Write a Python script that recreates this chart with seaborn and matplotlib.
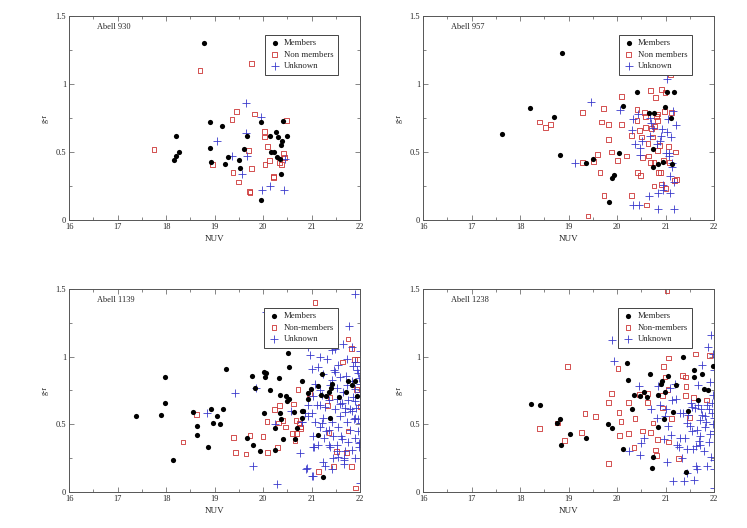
import matplotlib
matplotlib.use("Agg")
import matplotlib.pyplot as plt
import seaborn as sns
import pandas as pd
from matplotlib.ticker import MultipleLocator

# ---------------- DATA ----------------
# Abell 930
a930_mem_nuv = [18.78, 18.20, 18.20, 18.17, 18.26, 18.90, 18.91, 18.92, 19.15, 19.21, 19.28, 19.50, 19.52, 19.60, 19.67,
                19.96, 19.96, 20.15, 20.16, 20.23, 20.27, 20.28, 20.30, 20.34, 20.36, 20.38, 20.40, 20.41, 20.50]
a930_mem_gr = [1.30, 0.62, 0.47, 0.44, 0.50, 0.72, 0.53, 0.43, 0.69, 0.41, 0.46, 0.44, 0.38, 0.52, 0.62,
               0.72, 0.15, 0.62, 0.50, 0.50, 0.65, 0.46, 0.61, 0.45, 0.34, 0.55, 0.58, 0.73, 0.62]
a930_non_nuv = [17.75, 18.70, 19.76, 18.96, 19.36, 19.38, 19.45, 19.50, 19.70, 19.72, 19.73, 19.76, 19.83, 20.03, 20.03,
                20.04, 20.10, 20.14, 20.21, 20.21, 20.34, 20.38, 20.42, 20.45, 20.49]
a930_non_gr = [0.52, 1.10, 1.15, 0.41, 0.74, 0.35, 0.80, 0.28, 0.51, 0.21, 0.20, 0.38, 0.78, 0.65, 0.61,
               0.41, 0.54, 0.44, 0.32, 0.31, 0.42, 0.41, 0.49, 0.46, 0.73]
a930_unk_nuv = [20.25, 19.64, 19.95, 19.64, 19.06, 19.36, 19.67, 19.57, 19.97, 20.15, 20.43, 20.45]
a930_unk_gr = [1.10, 0.86, 0.76, 0.64, 0.58, 0.47, 0.47, 0.34, 0.22, 0.25, 0.22, 0.45]

# Abell 957
a957_mem_nuv = [17.62, 18.21, 18.69, 18.86, 18.82, 19.35, 19.51, 19.83, 19.90, 19.94, 20.03, 20.12, 20.42, 20.66, 20.77,
                20.75, 20.74, 20.85, 20.95, 20.99, 21.02, 21.11, 21.17, 21.13]
a957_mem_gr = [0.63, 0.82, 0.76, 1.23, 0.48, 0.42, 0.45, 0.13, 0.31, 0.33, 0.49, 0.84, 0.94, 0.79, 0.79,
               0.52, 0.39, 0.41, 0.43, 0.83, 0.94, 0.75, 0.94, 0.41]
a957_non_nuv = [18.40, 18.52, 18.62, 19.28, 19.29, 19.52, 19.60, 19.65, 19.72, 19.68, 19.73, 19.83, 19.83, 19.89, 19.40,
                20.01, 20.10, 20.09, 20.19, 20.30, 20.30, 20.41, 20.41, 20.42, 20.46, 20.49, 20.51, 20.52, 20.56, 20.59,
                20.58, 20.61, 20.64, 20.65, 20.69, 20.69, 20.71, 20.73, 20.76, 20.76, 20.78, 20.80, 20.82, 20.83, 20.84,
                20.84, 20.85, 20.87, 20.90, 20.92, 20.92, 20.95, 20.97, 20.99, 21.01, 21.06, 21.08, 21.10, 21.13, 21.18,
                21.20, 21.22]
a957_non_gr = [0.72, 0.68, 0.70, 0.79, 0.42, 0.43, 0.48, 0.35, 0.82, 0.72, 0.18, 0.70, 0.59, 0.50, 0.03,
               0.44, 0.91, 0.70, 0.47, 0.18, 0.62, 0.81, 0.73, 0.35, 0.66, 0.33, 0.61, 0.46, 0.79, 0.76,
               0.68, 0.11, 0.56, 0.47, 0.95, 0.42, 0.67, 0.61, 0.25, 0.42, 0.69, 0.90, 0.76, 0.73, 0.78,
               0.51, 0.35, 0.55, 0.35, 0.96, 0.26, 0.44, 0.80, 0.94, 0.23, 0.54, 0.42, 1.07, 0.79, 0.29,
               0.50, 0.30]
a957_unk_nuv = [19.13, 19.47, 20.06, 20.33, 20.31, 20.32, 20.45, 20.38, 20.43, 20.47, 20.48, 20.52, 20.66, 20.68, 20.71,
                20.68, 20.75, 20.82, 20.84, 20.85, 20.88, 20.90, 20.92, 20.94, 20.95, 21.00, 21.04, 21.04, 21.06, 21.08,
                21.08, 21.09, 21.10, 21.12, 21.14, 21.15, 21.17, 21.18, 21.21, 21.13]
a957_unk_gr = [0.42, 0.87, 0.81, 0.74, 0.66, 0.11, 0.11, 0.56, 0.78, 0.53, 0.48, 0.58, 0.18, 0.75, 0.71,
               0.62, 0.68, 0.56, 0.20, 0.08, 0.58, 0.62, 0.67, 0.22, 0.26, 0.49, 1.04, 0.65, 0.74, 0.49,
               0.47, 0.20, 0.32, 0.61, 0.39, 0.80, 0.28, 0.08, 0.70, 0.42]

# Abell 1139
a1139_mem_nuv = [17.38, 17.89, 17.98, 17.98, 18.15, 18.55, 18.64, 18.64, 18.86, 18.92, 18.96, 19.06, 19.12, 19.17, 19.24,
                 19.67, 19.78, 19.79, 19.83, 19.94, 20.01, 20.02, 20.05, 20.07, 20.14, 20.25, 20.25, 20.32, 20.34, 20.35,
                 20.38, 20.42, 20.48, 20.50, 20.51, 20.53, 20.53, 20.64, 20.66, 20.71, 20.80, 20.81, 20.83, 20.80, 20.93,
                 20.93, 20.98, 21.14, 21.14, 21.21, 21.20, 21.29, 21.24, 21.35, 21.41, 21.43, 21.39, 21.57, 21.70, 21.75,
                 21.83, 21.90, 21.94]
a1139_mem_gr = [0.56, 0.57, 0.85, 0.66, 0.24, 0.59, 0.49, 0.42, 0.33, 0.61, 0.51, 0.56, 0.50, 0.61, 0.91,
                0.40, 0.86, 0.35, 0.77, 0.30, 0.58, 0.89, 0.85, 0.88, 0.75, 0.31, 0.47, 0.84, 0.72, 0.58,
                0.54, 0.39, 0.71, 0.67, 1.03, 0.92, 0.69, 0.59, 0.39, 0.47, 0.82, 0.60, 0.60, 0.55, 0.69,
                0.73, 0.76, 0.42, 0.78, 0.87, 0.72, 0.71, 0.11, 0.74, 0.77, 0.80, 0.55, 0.70, 0.74, 0.82,
                0.79, 0.82, 0.71]
a1139_non_nuv = [18.35, 18.62, 19.39, 19.43, 19.65, 19.73, 20.00, 20.08, 20.10, 20.23, 20.29, 20.32, 20.34, 20.41, 20.47,
                 20.60, 20.62, 20.66, 20.69, 20.68, 20.72, 20.74, 20.78, 20.77, 20.96, 21.07, 21.14, 21.33, 21.36, 21.38,
                 21.46, 21.51, 21.63, 21.72, 21.75, 21.75, 21.83, 21.83, 21.88, 21.94, 21.93, 21.91, 22.00]
a1139_non_gr = [0.37, 0.57, 0.40, 0.29, 0.28, 0.42, 0.41, 0.52, 0.29, 0.61, 0.33, 0.51, 0.64, 0.53, 0.48,
                0.43, 0.65, 0.38, 0.43, 0.53, 0.76, 0.51, 0.48, 0.47, 0.73, 1.40, 0.15, 0.64, 0.44, 0.70,
                0.19, 0.30, 0.96, 0.29, 0.45, 1.13, 1.06, 0.19, 0.98, 0.98, 0.76, 0.03, 0.63]
a1139_unk_nuv = [18.84, 19.42, 19.79, 19.85, 20.06, 20.29, 20.58, 20.80, 20.76, 20.89, 21.02, 21.23, 21.90, 21.78, 20.25,
                 20.93, 21.26, 21.64, 21.48, 21.83, 21.99, 21.42,
                 20.97, 21.18, 21.31, 21.55, 21.73, 21.90, 22.00, 21.48, 21.00, 21.93,
                 21.24, 21.42, 21.59, 21.73, 21.83, 21.97, 21.38, 21.52, 21.64, 21.90, 22.00, 21.07, 21.18,
                 21.04, 21.21, 21.36, 21.52, 21.62, 21.76, 21.90, 22.00, 21.11, 21.28, 21.49, 21.69, 21.83, 20.93, 20.87,
                 21.00, 21.07, 21.24, 21.42, 21.59, 21.73, 21.90, 22.00, 21.18, 21.55, 21.79, 21.95, 21.35, 20.80, 20.93,
                 21.04, 21.26, 21.45, 21.62, 21.76, 21.90, 22.00, 21.14, 21.52, 21.83, 21.97, 21.69, 21.38,
                 21.04, 21.52, 21.55, 21.66, 21.90, 20.90, 21.28, 21.42, 21.00, 21.66, 21.99,
                 21.06, 21.17, 21.21, 21.35, 21.45, 21.60, 21.67, 21.87, 21.97, 21.86, 21.95, 21.80, 21.58, 21.30,
                 21.13, 21.68, 21.92, 21.99, 21.71, 21.47, 21.86, 21.96]
a1139_unk_gr = [0.58, 0.73, 0.19, 0.77, 1.33, 0.06, 0.60, 0.52, 0.29, 0.17, 0.12, 0.22, 1.46, 1.23, 0.50,
                1.07, 1.09, 1.09, 1.06, 1.07, 1.04, 1.05,
                1.01, 1.00, 0.98, 0.94, 0.98, 0.96, 0.93, 0.89, 0.91, 0.90,
                0.87, 0.83, 0.85, 0.79, 0.82, 0.84, 0.79, 0.77, 0.74, 0.76, 0.74, 0.80, 0.75,
                0.71, 0.72, 0.68, 0.69, 0.66, 0.68, 0.67, 0.64, 0.64, 0.63, 0.61, 0.62, 0.60, 0.64, 0.58,
                0.58, 0.52, 0.55, 0.52, 0.56, 0.52, 0.55, 0.51, 0.48, 0.48, 0.46, 0.45, 0.46, 0.52, 0.56,
                0.41, 0.40, 0.41, 0.39, 0.37, 0.40, 0.37, 0.35, 0.35, 0.31, 0.33, 0.30, 0.33,
                0.33, 0.30, 0.26, 0.25, 0.25, 0.18, 0.19, 0.17, 0.12, 0.21, 0.07,
                0.33, 0.64, 0.51, 0.35, 0.25, 0.41, 0.24, 0.54, 0.36, 0.93, 0.88, 0.61, 0.65, 0.45,
                0.92, 0.59, 0.62, 0.80, 0.86, 0.90, 0.70, 0.54]

# Abell 1238
a1238_mem_nuv = [18.22, 18.42, 18.76, 18.82, 18.85, 19.03, 19.35, 19.81, 19.90, 20.12, 20.20, 20.23, 20.31, 20.34, 20.47,
                 20.56, 20.62, 20.67, 20.72, 20.75, 20.85, 20.85, 20.90, 20.92, 20.98, 20.96, 21.06, 21.16, 21.21, 21.37,
                 21.42, 21.46, 21.59, 21.59, 21.67, 21.75, 21.79, 21.87, 21.97]
a1238_mem_gr = [0.65, 0.64, 0.51, 0.54, 0.35, 0.43, 0.40, 0.50, 0.47, 0.32, 0.95, 0.83, 0.61, 0.72, 0.71,
                0.74, 0.70, 0.87, 0.18, 0.26, 0.48, 0.72, 0.80, 0.82, 0.74, 0.54, 0.86, 0.59, 0.79, 1.00,
                0.15, 0.60, 0.85, 0.90, 0.68, 0.87, 0.76, 0.75, 0.93]
a1238_non_nuv = [18.40, 18.78, 18.92, 18.98, 19.26, 19.34, 19.56, 19.82, 19.83, 19.89, 20.02, 20.04, 20.05, 20.08, 20.23,
                 20.24, 20.35, 20.37, 20.47, 20.52, 20.62, 20.62, 20.69, 20.74, 20.80, 20.82, 20.83, 20.94, 20.94, 20.96,
                 20.99, 21.03, 21.05, 21.06, 21.06, 21.13, 21.27, 21.35, 21.41, 21.41, 21.42, 21.50, 21.61, 21.58, 21.85,
                 21.90]
a1238_non_gr = [0.47, 0.51, 0.38, 0.93, 0.44, 0.58, 0.56, 0.21, 0.66, 0.73, 0.91, 0.59, 0.42, 0.52, 0.43,
                0.66, 0.33, 0.54, 0.72, 0.45, 0.73, 0.66, 0.44, 0.51, 0.31, 0.27, 0.39, 0.71, 0.62, 0.93,
                0.85, 1.49, 0.76, 0.37, 0.99, 0.54, 0.25, 0.86, 0.71, 0.85, 0.78, 0.55, 1.02, 0.70, 0.68,
                1.01]
a1238_unk_nuv = [19.90, 19.94, 20.24, 20.46, 20.48, 20.49, 20.55, 20.70, 20.85, 20.88, 20.97, 20.98, 21.03, 21.05, 21.09,
                 21.11, 21.13, 21.15, 21.21, 21.24, 21.27, 21.29, 21.33, 21.39, 21.41, 21.44, 21.45, 21.47, 21.50, 21.52,
                 21.54, 21.56, 21.59, 21.62, 21.64, 21.63, 21.65, 21.67, 21.67, 21.70, 21.71, 21.72, 21.73, 21.76, 21.79,
                 21.81, 21.82, 21.85, 21.86, 21.87, 21.90, 21.92, 21.92, 21.93, 21.94, 21.95, 21.97, 21.98, 21.98, 21.99,
                 22.00, 21.99, 22.00, 21.99, 21.99, 21.20, 21.37, 21.60, 21.75, 21.89, 20.82, 21.00, 21.30, 21.55,
                 21.84, 21.96, 21.68, 21.44]
a1238_unk_gr = [1.12, 0.97, 0.30, 0.78, 0.27, 0.36, 0.40, 0.61, 0.78, 0.64, 0.39, 0.56, 0.22, 0.49, 0.77,
                0.42, 0.68, 0.08, 0.69, 0.35, 0.33, 0.40, 0.25, 0.08, 0.40, 0.32, 0.14, 0.57, 0.49, 0.66,
                0.63, 0.32, 0.09, 0.19, 0.17, 0.34, 0.46, 0.64, 0.79, 0.53, 0.41, 0.35, 0.61, 0.94, 0.30,
                0.56, 0.48, 0.19, 0.64, 1.07, 0.37, 0.43, 0.81, 1.16, 0.26, 0.58, 0.50, 1.02, 0.72, 0.17,
                0.03, 0.24, 0.90, 0.55, 0.45, 0.80, 0.58, 0.62, 0.57, 0.61, 0.55, 0.61, 0.58, 0.45,
                0.52, 0.66, 0.38, 0.51]

titles = ["Abell 930", "Abell 957", "Abell 1139", "Abell 1238"]
legend_labels = [["Members", "Non members", "Unknown"],
                 ["Members", "Non members", "Unknown"],
                 ["Members", "Non-members", "Unknown"],
                 ["Members", "Non-members", "Unknown"]]
x_ticks = [16, 17, 18, 19, 20, 21, 22]
y_ticks = [0, 0.5, 1, 1.5]
y_tick_labels = ["0", "0.5", "1", "1.5"]

panels = [
    (a930_mem_nuv, a930_mem_gr, a930_non_nuv, a930_non_gr, a930_unk_nuv, a930_unk_gr),
    (a957_mem_nuv, a957_mem_gr, a957_non_nuv, a957_non_gr, a957_unk_nuv, a957_unk_gr),
    (a1139_mem_nuv, a1139_mem_gr, a1139_non_nuv, a1139_non_gr, a1139_unk_nuv, a1139_unk_gr),
    (a1238_mem_nuv, a1238_mem_gr, a1238_non_nuv, a1238_non_gr, a1238_unk_nuv, a1238_unk_gr),
]

# ---------------- STYLE ----------------
sns.set_theme(style="ticks")
plt.rcParams['font.family'] = ['Liberation Serif', 'DejaVu Serif']
plt.rcParams['xtick.direction'] = 'in'
plt.rcParams['ytick.direction'] = 'in'

RED = "#cc3333"
BLUE = "#3a3acc"

fig = plt.figure(figsize=(7.47, 5.28), dpi=100)
ax_rects = [
    [0.0924, 0.5833, 0.3896, 0.3864],
    [0.5663, 0.5833, 0.3896, 0.3864],
    [0.0924, 0.0682, 0.3896, 0.3845],
    [0.5663, 0.0682, 0.3896, 0.3845],
]

for i, (rect, data) in enumerate(zip(ax_rects, panels)):
    ax = fig.add_axes(rect)
    mx, my, nx, ny, ux, uy = data
    labs = legend_labels[i]
    sns.scatterplot(x=mx, y=my, ax=ax, color="black", marker="o", s=14,
                    linewidth=0, label=labs[0], zorder=3)
    sns.scatterplot(x=nx, y=ny, ax=ax, marker="s", s=12, facecolor="none",
                    edgecolor=RED, linewidth=0.6, label=labs[1], zorder=2)
    sns.scatterplot(x=ux, y=uy, ax=ax, marker="+", s=32, color=BLUE,
                    linewidth=0.6, label=labs[2], zorder=2)
    ax.set_xlim(16, 22)
    ax.set_ylim(0, 1.5)
    ax.set_xticks(x_ticks)
    ax.set_xticklabels([str(t) for t in x_ticks])
    ax.set_yticks(y_ticks)
    ax.set_yticklabels(y_tick_labels)
    ax.xaxis.set_minor_locator(MultipleLocator(0.5))
    ax.yaxis.set_minor_locator(MultipleLocator(0.25))
    ax.tick_params(which='both', top=True, right=True, direction='in',
                   labelsize=6, width=0.5, color="#555555", pad=2)
    ax.tick_params(which='major', length=3.5)
    ax.tick_params(which='minor', length=2)
    for sp in ax.spines.values():
        sp.set_linewidth(0.7)
        sp.set_color("#555555")
        sp.set_visible(True)
    ax.set_xlabel("NUV", fontsize=6.5, labelpad=3)
    ax.set_ylabel("g-r", fontsize=5.5, labelpad=5)
    ax.text(0.095, 0.945, titles[i], transform=ax.transAxes, fontsize=6,
            ha='left', va='center')
    leg = ax.legend(loc='upper right', bbox_to_anchor=(0.94, 0.93), fontsize=6.3,
                    frameon=True, fancybox=False, edgecolor="#444444",
                    framealpha=1, borderpad=0.5, handletextpad=0.5,
                    labelspacing=0.4, handlelength=1.2, markerscale=1.0)
    leg.get_frame().set_linewidth(0.7)

fig.savefig("out.png", dpi=100)
